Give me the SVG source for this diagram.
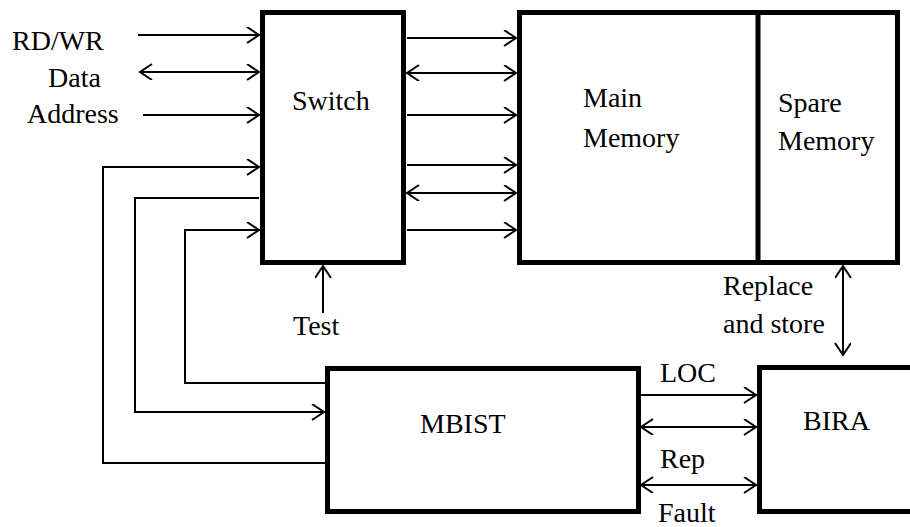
<svg xmlns="http://www.w3.org/2000/svg" width="910" height="527" viewBox="0 0 910 527">
<style>
.box{fill:#fff;stroke:#000;stroke-width:5}
.ln{fill:none;stroke:#000;stroke-width:2}
.a{marker-end:url(#ah)}
.b{marker-start:url(#ah);marker-end:url(#ah)}
.t{font-family:'Liberation Serif','DejaVu Serif',serif;font-size:28px;fill:#000}
</style>
<defs>
<marker id="ah" markerUnits="userSpaceOnUse" markerWidth="16" markerHeight="18" refX="13" refY="8" orient="auto-start-reverse" viewBox="0 0 16 18">
<path d="M1,0 L13,8 L1,16" fill="none" stroke="#000" stroke-width="2"/>
</marker>
</defs>
<g id="switch">
<rect class="box" x="262.5" y="12.5" width="141" height="250"/>
<text class="t" font-family="Liberation Serif, serif" x="292" y="110">Switch</text>
</g>
<g id="memory">
<rect class="box" x="519.5" y="12.5" width="378" height="250"/>
<line x1="758" y1="12.5" x2="758" y2="262.5" stroke="#000" stroke-width="5"/>
<text class="t" font-family="Liberation Serif, serif" x="583" y="107">Main</text>
<text class="t" font-family="Liberation Serif, serif" x="583" y="147">Memory</text>
<text class="t" font-family="Liberation Serif, serif" x="778" y="112">Spare</text>
<text class="t" font-family="Liberation Serif, serif" x="778" y="150">Memory</text>
</g>
<g id="mbist">
<rect class="box" x="327.5" y="368.5" width="311" height="143"/>
<text class="t" font-family="Liberation Serif, serif" x="420" y="433">MBIST</text>
</g>
<g id="bira">
<rect class="box" x="759.5" y="367.5" width="160" height="144"/>
<text class="t" font-family="Liberation Serif, serif" x="803" y="430">BIRA</text>
</g>
<g id="labels">
<text class="t" font-family="Liberation Serif, serif" x="12" y="50">RD/WR</text>
<text class="t" font-family="Liberation Serif, serif" x="48" y="87">Data</text>
<text class="t" font-family="Liberation Serif, serif" x="27" y="123">Address</text>
<text class="t" font-family="Liberation Serif, serif" x="293" y="335">Test</text>
<text class="t" font-family="Liberation Serif, serif" x="723" y="295">Replace</text>
<text class="t" font-family="Liberation Serif, serif" x="723" y="333">and store</text>
<text class="t" font-family="Liberation Serif, serif" x="660" y="382">LOC</text>
<text class="t" font-family="Liberation Serif, serif" x="660" y="468">Rep</text>
<text class="t" font-family="Liberation Serif, serif" x="658" y="522">Fault</text>
</g>
<g id="connectors">
<line class="ln a" x1="138" y1="35" x2="259" y2="35"/>
<line class="ln b" x1="140" y1="72" x2="259" y2="72"/>
<line class="ln a" x1="143" y1="115" x2="259" y2="115"/>
<polyline class="ln a" points="325,463 103,463 103,167 259,167"/>
<polyline class="ln a" points="259,198 135,198 135,412 324,412"/>
<polyline class="ln a" points="325,383 185,383 185,230 259,230"/>
<line class="ln a" x1="407" y1="38" x2="516" y2="38"/>
<line class="ln b" x1="407" y1="73" x2="516" y2="73"/>
<line class="ln a" x1="407" y1="115" x2="516" y2="115"/>
<line class="ln a" x1="407" y1="165" x2="516" y2="165"/>
<line class="ln b" x1="407" y1="193" x2="516" y2="193"/>
<line class="ln a" x1="407" y1="230" x2="516" y2="230"/>
<line class="ln a" x1="323" y1="313" x2="323" y2="266"/>
<line class="ln b" x1="843" y1="266" x2="843" y2="355"/>
<line class="ln a" x1="641" y1="395" x2="756" y2="395"/>
<line class="ln b" x1="641" y1="427" x2="756" y2="427"/>
<line class="ln b" x1="641" y1="485" x2="756" y2="485"/>
</g>
</svg>
